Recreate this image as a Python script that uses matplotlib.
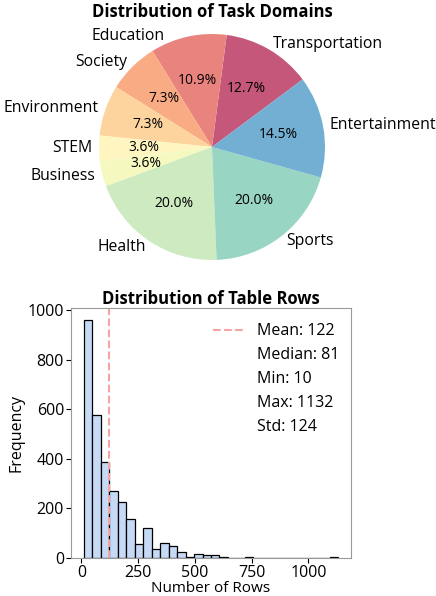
import numpy as np
import matplotlib
matplotlib.use("Agg")
import matplotlib.pyplot as plt
from matplotlib.lines import Line2D

plt.rcParams['font.family'] = ['Open Sans', 'DejaVu Sans']

# Task domains (pie)
domains = ["Transportation", "Education", "Society", "Environment", "STEM",
           "Business", "Health", "Sports", "Entertainment"]
domain_counts = [7, 6, 4, 4, 2, 2, 11, 11, 8]
domain_colors = ['#c4577a', '#e9837e', '#f9ab84', '#fdd49d', '#fef5c0',
                 '#f5f9c0', '#cdeac0', '#98d5c3', '#72afd2']

# Table rows histogram (30 bins between min and max)
row_min, row_max = 10, 1132
row_mean, row_median, row_std = 122, 81, 124
bin_counts = [960, 576, 388, 271, 224, 158, 56, 118, 34, 58,
              47, 21, 3, 13, 9, 9, 3, 0, 0, 3,
              0, 0, 0, 0, 0, 0, 0, 0, 0, 4]

fig = plt.figure(figsize=(4.36, 5.96), dpi=100)

# --- pie ---
ax1 = fig.add_axes([70.75 / 436, 1 - 288.25 / 596, 282.5 / 436, 282.5 / 596])
wedges, label_texts, pct_texts = ax1.pie(
    domain_counts, labels=domains, colors=domain_colors,
    autopct='%1.1f%%', startangle=36.7, labeldistance=1.06,
    textprops={'fontsize': 11.3})
for t in pct_texts:
    t.set_fontsize(10)
# Education label sits a bit left of its wedge, as in the original
label_texts[1].set_position((-0.42, 0.98))

fig.text(212 / 436, 1 - 12 / 596, "Distribution of Task Domains",
         ha='center', va='center', fontsize=12, fontweight='bold')

# --- histogram ---
ax2 = fig.add_axes([71 / 436, 1 - 557.7 / 596, 280 / 436, 249.7 / 596])
edges = np.linspace(row_min, row_max, len(bin_counts) + 1)
centers = (edges[:-1] + edges[1:]) / 2
ax2.hist(centers, bins=edges, weights=bin_counts, color='#c6daf6',
         edgecolor='black', linewidth=0.9)
ax2.axvline(row_mean, color='#f5a3a3', linestyle='--', linewidth=1.5)

handles = [Line2D([0], [0], color='#f5a3a3', linestyle='--', linewidth=1.5)]
labels = [f"Mean: {row_mean}"]
for lab in [f"Median: {row_median}", f"Min: {row_min}",
            f"Max: {row_max}", f"Std: {row_std}"]:
    handles.append(Line2D([0], [0], color='none'))
    labels.append(lab)
ax2.legend(handles, labels, loc='upper right', frameon=False, fontsize=11.5,
           borderaxespad=0.3, bbox_to_anchor=(1.0, 0.984))

ax2.set_title("Distribution of Table Rows", fontsize=12, fontweight='bold', pad=3)
ax2.set_xlabel("Number of Rows", fontsize=11)
ax2.xaxis.set_label_coords(0.5, -0.094)
ax2.set_ylabel("Frequency", fontsize=11.5)
ax2.yaxis.set_label_coords(-0.165, 0.5)
ax2.set_xticks([0, 250, 500, 750, 1000])
ax2.tick_params(labelsize=11.5, colors='black', pad=1.5)
for s in ax2.spines.values():
    s.set_color('#999999')

fig.savefig("out.png", dpi=100)
